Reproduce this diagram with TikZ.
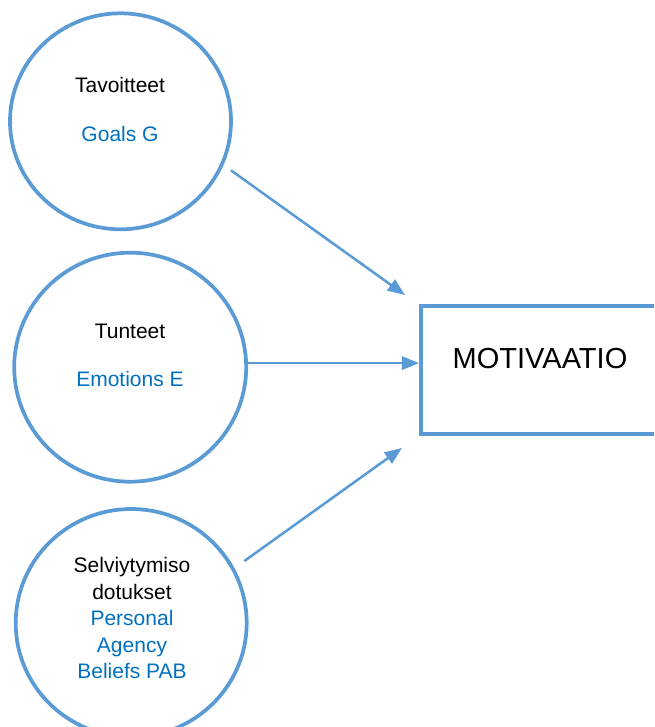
\documentclass[tikz,border=0pt]{standalone}
\usepackage{fontspec}
\setmainfont{Liberation Sans}
\usetikzlibrary{arrows.meta,shapes.geometric}
\definecolor{lineblue}{HTML}{5B9BD5}
\definecolor{nameblue}{HTML}{0070C0}

\begin{document}
\begin{tikzpicture}[
    x=0.75pt, y=-0.75pt,
    factor/.style={ellipse, draw=lineblue, line width=2.8pt, inner sep=0pt},
    factortext/.style={anchor=north, align=center, inner sep=0pt},
    effect/.style={-{Triangle[length=13pt,width=10pt]}, draw=lineblue, line width=1.9pt}
]
\clip (0,0) rectangle (654,727);
% the three factors
\node [factor, minimum width=165.75pt, minimum height=162pt] (goals) at (120.5,121.3) {};
\node [factor, minimum width=174pt, minimum height=171.75pt] (emotions) at (130.2,367.2) {};
\node [factor, minimum width=173.25pt, minimum height=171pt] (beliefs) at (131.2,623) {};
\node [factortext, font=\fontsize{15.75}{36.2}\selectfont] (goalstext) at (120,77.3)
    {Tavoitteet\\\textcolor{nameblue}{Goals G}};
\node [factortext, font=\fontsize{15.75}{35.6}\selectfont] (emotionstext) at (130,324)
    {Tunteet\\\textcolor{nameblue}{Emotions E}};
\node [factortext, font=\fontsize{15.75}{19.9}\selectfont] (beliefstext) at (132,557)
    {Selviytymiso\\dotukset\\\textcolor{nameblue}{Personal}\\\textcolor{nameblue}{Agency}\\\textcolor{nameblue}{Beliefs PAB}};
% the result
\node [draw=lineblue, line width=2.8pt, minimum width=178.5pt, minimum height=96.2pt] (motiv) at (540,370) {};
\node [anchor=base, inner sep=0pt, font=\fontsize{21.75}{26}\selectfont] (motivtext) at (540,368.3) {MOTIVAATIO};
% arrows
\coordinate (goalsend) at (405,295);
\coordinate (beliefsend) at (402,448);
\draw [effect, shorten <=6.75pt] (goals.-23) -- (goalsend);
\draw [effect] (emotions.2) -- (emotions.2 -| motiv.west);
\draw [effect, shorten <=9pt] (beliefs.28) -- (beliefsend);
\end{tikzpicture}
\end{document}
